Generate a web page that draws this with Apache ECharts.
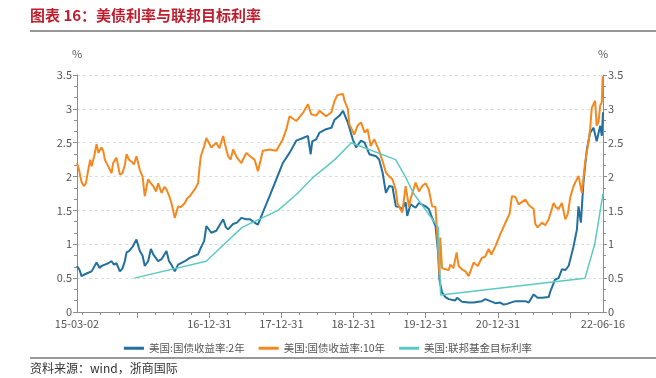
<!DOCTYPE html>
<html>
<head>
<meta charset="utf-8">
<script src="https://cdn.jsdelivr.net/npm/echarts@6/dist/echarts.min.js"></script>
<style>
  html, body { margin: 0; padding: 0; background: #fff; }
  #main { width: 656px; height: 378px; }
</style>
</head>
<body>
<div id="main"></div>
<script>
// 美国:国债收益率:2年
var us2y = [
  ['2015-03-02',0.68],['2015-03-15',0.62],['2015-03-25',0.53],['2015-04-06',0.55],['2015-04-28',0.58],
  ['2015-05-15',0.60],['2015-06-09',0.73],['2015-06-25',0.65],['2015-07-04',0.68],['2015-07-21',0.70],
  ['2015-08-07',0.72],['2015-08-24',0.75],['2015-09-05',0.70],['2015-09-18',0.72],['2015-10-05',0.60],
  ['2015-10-18',0.64],['2015-10-30',0.75],['2015-11-08',0.88],['2015-11-20',0.90],['2015-12-10',0.97],
  ['2015-12-28',1.07],['2016-01-14',0.90],['2016-01-28',0.83],['2016-02-08',0.68],['2016-02-25',0.75],
  ['2016-03-10',0.93],['2016-03-22',0.85],['2016-04-16',0.75],['2016-05-03',0.78],['2016-05-28',0.90],
  ['2016-06-10',0.75],['2016-06-22',0.70],['2016-07-09',0.60],['2016-07-26',0.70],['2016-08-29',0.75],
  ['2016-09-23',0.80],['2016-10-18',0.83],['2016-11-04',0.85],['2016-11-18',0.95],['2016-12-05',1.05],
  ['2016-12-16',1.27],['2017-01-10',1.17],['2017-02-04',1.20],['2017-03-11',1.37],['2017-03-25',1.25],
  ['2017-04-05',1.22],['2017-04-30',1.30],['2017-05-20',1.32],['2017-06-11',1.39],['2017-07-06',1.37],
  ['2017-07-25',1.37],['2017-08-17',1.32],['2017-09-03',1.29],['2017-09-28',1.47],['2017-11-01',1.71],
  ['2017-12-05',1.96],['2018-01-07',2.20],['2018-02-10',2.35],['2018-03-16',2.53],['2018-04-19',2.57],
  ['2018-05-14',2.60],['2018-05-28',2.33],['2018-06-05',2.52],['2018-06-25',2.55],['2018-07-12',2.65],
  ['2018-08-14',2.70],['2018-09-10',2.72],['2018-09-26',2.84],['2018-10-21',2.90],['2018-11-08',2.97],
  ['2018-11-25',2.85],['2018-12-02',2.80],['2018-12-27',2.55],['2019-01-13',2.43],['2019-02-07',2.53],
  ['2019-02-25',2.50],['2019-03-21',2.33],['2019-04-24',2.30],['2019-05-10',2.25],['2019-05-27',2.06],
  ['2019-06-13',1.76],['2019-06-30',1.86],['2019-07-16',1.85],['2019-08-02',1.56],['2019-08-20',1.55],
  ['2019-09-04',1.52],['2019-09-21',1.62],['2019-09-29',1.42],['2019-10-16',1.59],['2019-11-10',1.54],
  ['2019-11-27',1.61],['2019-12-31',1.56],['2020-01-16',1.52],['2020-02-02',1.39],['2020-02-19',1.27],
  ['2020-03-03',0.88],['2020-03-10',0.48],['2020-03-23',0.29],['2020-04-09',0.22],['2020-04-26',0.19],
  ['2020-05-29',0.17],['2020-06-07',0.21],['2020-07-02',0.15],['2020-08-05',0.14],['2020-08-30',0.14],
  ['2020-10-11',0.16],['2020-10-28',0.19],['2020-12-18',0.13],['2021-01-12',0.14],['2021-01-29',0.11],
  ['2021-02-15',0.12],['2021-03-29',0.16],['2021-05-19',0.16],['2021-06-05',0.14],['2021-06-30',0.26],
  ['2021-07-20',0.21],['2021-08-11',0.21],['2021-09-14',0.22],['2021-09-22',0.30],['2021-10-17',0.48],
  ['2021-11-03',0.50],['2021-11-20',0.63],['2021-12-07',0.62],['2021-12-24',0.68],['2022-01-18',0.97],
  ['2022-02-04',1.22],['2022-02-12',1.56],['2022-02-24',1.32],['2022-03-09',1.91],['2022-03-26',2.40],
  ['2022-04-12',2.65],['2022-04-29',2.72],['2022-05-15',2.52],['2022-06-02',2.75],['2022-06-10',2.60],
  ['2022-06-16',2.95]
];

// 美国:国债收益率:10年
var us10y = [
  ['2015-03-02',2.20],['2015-03-12',2.10],['2015-03-25',1.92],['2015-04-06',1.86],['2015-04-16',1.90],
  ['2015-04-28',2.10],['2015-05-08',2.25],['2015-05-15',2.15],['2015-05-28',2.30],['2015-06-09',2.48],
  ['2015-06-18',2.35],['2015-07-04',2.43],['2015-07-13',2.38],['2015-07-21',2.25],['2015-08-07',2.15],
  ['2015-08-24',2.05],['2015-09-01',2.20],['2015-09-18',2.28],['2015-10-05',2.03],['2015-10-18',2.05],
  ['2015-10-30',2.17],['2015-11-08',2.33],['2015-11-20',2.25],['2015-12-03',2.22],['2015-12-15',2.18],
  ['2015-12-28',2.30],['2016-01-14',2.10],['2016-01-28',2.00],['2016-02-08',1.71],['2016-02-25',1.96],
  ['2016-03-10',1.90],['2016-03-22',1.86],['2016-04-05',1.78],['2016-04-16',1.90],['2016-05-03',1.76],
  ['2016-05-18',1.85],['2016-05-28',1.81],['2016-06-10',1.72],['2016-06-22',1.61],['2016-07-09',1.39],
  ['2016-07-26',1.56],['2016-08-10',1.55],['2016-08-29',1.61],['2016-09-10',1.68],['2016-09-23',1.71],
  ['2016-10-18',1.81],['2016-11-04',1.90],['2016-11-10',2.10],['2016-11-18',2.30],['2016-12-05',2.45],
  ['2016-12-16',2.57],['2017-01-10',2.43],['2017-02-04',2.50],['2017-02-20',2.42],['2017-03-11',2.60],
  ['2017-03-25',2.42],['2017-04-05',2.30],['2017-04-18',2.25],['2017-04-30',2.40],['2017-05-20',2.28],
  ['2017-06-11',2.20],['2017-07-06',2.35],['2017-07-25',2.30],['2017-08-17',2.25],['2017-09-03',2.08],
  ['2017-09-28',2.38],['2017-11-01',2.40],['2017-12-05',2.38],['2018-01-07',2.55],['2018-01-25',2.70],
  ['2018-02-10',2.89],['2018-03-16',2.82],['2018-04-19',2.94],['2018-05-14',3.07],['2018-05-31',2.92],
  ['2018-06-25',2.90],['2018-07-12',2.97],['2018-08-14',2.89],['2018-09-10',2.95],['2018-09-26',3.12],
  ['2018-10-10',3.20],['2018-10-21',3.21],['2018-11-08',3.22],['2018-11-15',3.12],['2018-12-02',3.00],
  ['2018-12-10',2.77],['2019-01-04',2.62],['2019-01-20',2.75],['2019-02-07',2.80],['2019-02-25',2.65],
  ['2019-03-12',2.70],['2019-03-28',2.45],['2019-04-15',2.55],['2019-05-10',2.38],['2019-05-30',2.20],
  ['2019-06-13',2.06],['2019-06-30',2.00],['2019-07-16',1.96],['2019-08-02',1.80],['2019-08-10',1.61],
  ['2019-08-25',1.52],['2019-09-04',1.47],['2019-09-21',1.86],['2019-10-08',1.55],['2019-10-16',1.67],
  ['2019-11-10',1.91],['2019-11-27',1.78],['2019-12-14',1.86],['2019-12-31',1.90],['2020-01-16',1.81],
  ['2020-02-02',1.56],['2020-02-19',1.55],['2020-02-27',1.17],['2020-03-06',0.78],['2020-03-10',0.55],
  ['2020-03-14',1.10],['2020-03-23',0.65],['2020-04-09',0.63],['2020-04-26',0.62],['2020-05-04',0.70],
  ['2020-05-20',0.65],['2020-06-05',0.88],['2020-06-15',0.68],['2020-07-02',0.63],['2020-07-20',0.60],
  ['2020-08-05',0.53],['2020-08-30',0.73],['2020-09-20',0.68],['2020-10-11',0.80],['2020-10-28',0.82],
  ['2020-11-14',0.93],['2020-11-28',0.85],['2020-12-18',0.97],['2021-01-12',1.15],['2021-02-15',1.37],
  ['2021-02-28',1.45],['2021-03-12',1.71],['2021-03-29',1.70],['2021-04-15',1.59],['2021-05-19',1.66],
  ['2021-06-05',1.58],['2021-06-30',1.52],['2021-07-08',1.30],['2021-07-20',1.25],['2021-08-11',1.32],
  ['2021-08-28',1.28],['2021-09-14',1.37],['2021-10-09',1.61],['2021-10-20',1.55],['2021-11-03',1.52],
  ['2021-11-20',1.61],['2021-12-07',1.37],['2021-12-20',1.45],['2022-01-01',1.69],['2022-01-18',1.86],
  ['2022-02-12',2.01],['2022-03-01',1.76],['2022-03-17',2.20],['2022-04-03',2.50],['2022-04-12',2.70],
  ['2022-04-20',3.01],['2022-05-07',3.12],['2022-05-15',2.75],['2022-05-24',2.80],['2022-06-02',3.05],
  ['2022-06-10',3.10],['2022-06-14',3.48],['2022-06-16',3.45]
];

// 美国:联邦基金目标利率 (只在调整日有值，连线)
var fedRate = [
  ['2015-12-17',0.50],['2016-12-15',0.75],['2017-03-16',1.00],['2017-06-15',1.25],['2017-12-14',1.50],
  ['2018-03-22',1.75],['2018-06-14',2.00],['2018-09-27',2.25],['2018-12-20',2.50],['2019-08-01',2.25],
  ['2019-09-19',2.00],['2019-10-31',1.75],['2020-03-04',1.25],['2020-03-16',0.25],['2022-03-17',0.50],
  ['2022-05-05',1.00],['2022-06-16',1.75]
];

var xLabelDates = ['2015-03-02','2016-12-31','2017-12-31','2018-12-31','2019-12-31','2020-12-31','2022-06-16'];
var xMajorTicks = ['2015-12-31','2016-12-31','2017-12-31','2018-12-31','2019-12-31','2020-12-31','2021-12-31'];
var xMinorTicks = [];
['2015','2016','2017','2018','2019','2020','2021','2022'].forEach(function (y) {
    ['-03-31','-06-30','-09-30','-12-31'].forEach(function (md) {
        var d = y + md;
        if (d > '2015-03-02' && d < '2022-06-16') xMinorTicks.push(d);
    });
});

var seriesNames = ['美国:国债收益率:2年', '美国:国债收益率:10年', '美国:联邦基金目标利率'];
var colors = ['#22709d', '#f5891f', '#5cc9c3'];

function ts(s) { return Date.UTC(+s.slice(0, 4), +s.slice(5, 7) - 1, +s.slice(8, 10)); }
function fmtDate(v) {
    var d = new Date(v);
    var p = function (n) { return (n < 10 ? '0' : '') + n; };
    return String(d.getUTCFullYear()).slice(2) + '-' + p(d.getUTCMonth() + 1) + '-' + p(d.getUTCDate());
}
function toTs(arr) { return arr.map(function (r) { return [ts(r[0]), r[1]]; }); }

var chart = echarts.init(document.getElementById('main'), null, { renderer: 'canvas' });

var axisGray = '#8c8c8c';
var labelGray = '#555';
var xMin = ts('2015-03-02'), xMax = ts('2022-06-16');

function yAxisOpt(pos, showSplit) {
    return {
        type: 'value',
        position: pos,
        min: 0, max: 3.5, interval: 0.5,
        name: '%',
        nameGap: 16,
        nameTextStyle: { color: labelGray, fontSize: 11, align: 'center' },
        axisLine: { show: true, lineStyle: { color: axisGray } },
        axisTick: { show: true, length: 4, lineStyle: { color: axisGray } },
        minorTick: { show: true, splitNumber: 3, length: 3, lineStyle: { color: axisGray } },
        axisLabel: { color: labelGray, fontSize: 11, margin: 5 },
        splitLine: { show: showSplit, lineStyle: { color: '#dcdcdc', type: [3, 3] } }
    };
}

var option = {
    animation: false,
    textStyle: { fontFamily: 'Noto Sans CJK SC, Noto Sans, sans-serif' },
    grid: { left: 77, right: 53, top: 75, bottom: 66 },
    graphic: [
        { type: 'text', left: 30, top: 8, style: { text: '图表 16：美债利率与联邦目标利率', fill: '#be1e2d', font: 'bold 15px "Noto Sans CJK SC"' } },
        { type: 'line', shape: { x1: 30, y1: 31, x2: 656, y2: 31 }, style: { stroke: '#333', lineWidth: 1 } },
        { type: 'line', shape: { x1: 30, y1: 358, x2: 656, y2: 358 }, style: { stroke: '#333', lineWidth: 1 } },
        { type: 'text', left: 30, top: 362, style: { text: '资料来源：wind，浙商国际', fill: '#333', font: '12px "Noto Sans CJK SC"' } }
    ],
    legend: {
        top: 338,
        left: 'center',
        itemWidth: 20,
        itemHeight: 3,
        itemGap: 14,
        icon: 'rect',
        textStyle: { color: labelGray, fontSize: 10.5 },
        data: seriesNames
    },
    xAxis: [
        {
            type: 'value', min: xMin, max: xMax,
            axisLine: { show: true, onZero: false, lineStyle: { color: axisGray } },
            axisTick: { show: true, length: 6, lineStyle: { color: axisGray }, customValues: xMajorTicks.map(ts) },
            axisLabel: { color: labelGray, fontSize: 11, margin: 6, customValues: xLabelDates.map(ts), formatter: function (v) { return fmtDate(v); } },
            splitLine: { show: false }
        },
        {
            type: 'value', min: xMin, max: xMax, position: 'bottom',
            axisLine: { show: false },
            axisTick: { show: true, length: 3, lineStyle: { color: axisGray }, customValues: xMinorTicks.map(ts) },
            axisLabel: { show: false },
            splitLine: { show: false }
        }
    ],
    yAxis: [yAxisOpt('left', true), yAxisOpt('right', false)],
    series: [
        { name: seriesNames[0], type: 'line', data: toTs(us2y), symbol: 'none', lineStyle: { width: 2, color: colors[0] }, itemStyle: { color: colors[0] } },
        { name: seriesNames[1], type: 'line', data: toTs(us10y), symbol: 'none', lineStyle: { width: 2, color: colors[1] }, itemStyle: { color: colors[1] } },
        { name: seriesNames[2], type: 'line', data: toTs(fedRate), symbol: 'none', lineStyle: { width: 1.5, color: colors[2] }, itemStyle: { color: colors[2] } }
    ]
};

chart.setOption(option);
</script>
</body>
</html>
